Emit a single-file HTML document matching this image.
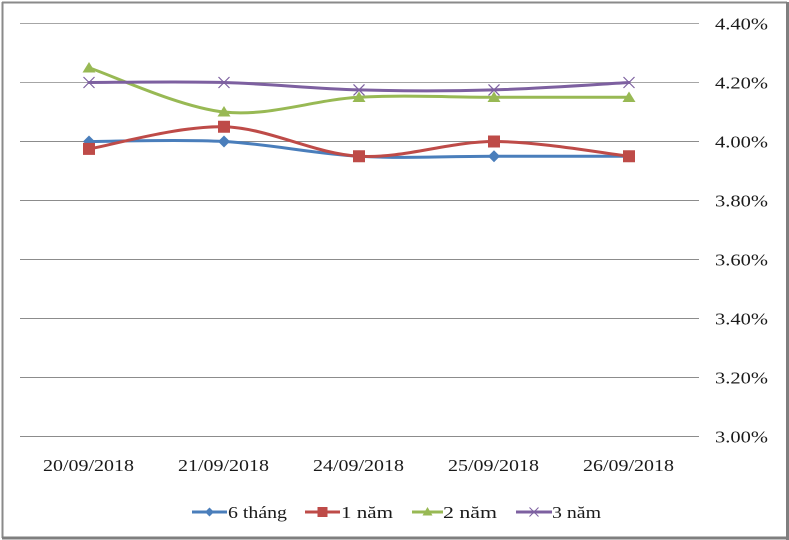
<!DOCTYPE html>
<html>
<head>
<meta charset="utf-8">
<style>
  html, body { margin: 0; padding: 0; background: #ffffff; }
  svg { display: block; }
  text { font-family: "Liberation Serif", "DejaVu Serif", serif; fill: #1a1a1a; }
</style>
</head>
<body>
<svg width="789" height="540" viewBox="0 0 789 540" xmlns="http://www.w3.org/2000/svg">
  <rect x="0" y="0" width="789" height="540" fill="#ffffff"/>
  <!-- outer border -->
  <line x1="2.5" y1="2" x2="2.5" y2="538" stroke="#8a8a8a" stroke-width="2"/>
  <line x1="2" y1="2.5" x2="787" y2="2.5" stroke="#8a8a8a" stroke-width="2"/>
  <line x1="787.5" y1="2" x2="787.5" y2="540" stroke="#7f7f7f" stroke-width="3"/>
  <line x1="2" y1="538" x2="789" y2="538" stroke="#7f7f7f" stroke-width="3"/>

  <!-- gridlines -->
  <g stroke="#a6a6a6" stroke-width="1">
    <line x1="20" y1="23.5" x2="699" y2="23.5"/>
    <line x1="20" y1="82.5" x2="699" y2="82.5"/>
    <line x1="20" y1="141.5" x2="699" y2="141.5" stroke="#8c8c8c"/>
    <line x1="20" y1="200.5" x2="699" y2="200.5" stroke="#8c8c8c"/>
    <line x1="20" y1="259.5" x2="699" y2="259.5" stroke="#8c8c8c"/>
    <line x1="20" y1="318.5" x2="699" y2="318.5" stroke="#8c8c8c"/>
    <line x1="20" y1="377.5" x2="699" y2="377.5" stroke="#8c8c8c"/>
    <line x1="20" y1="436.5" x2="699" y2="436.5" stroke="#8c8c8c"/>
  </g>

  <!-- y labels -->
  <g font-size="17">
    <text x="715" y="29.5" textLength="53" lengthAdjust="spacingAndGlyphs">4.40%</text>
    <text x="715" y="88.5" textLength="53" lengthAdjust="spacingAndGlyphs">4.20%</text>
    <text x="715" y="147.5" textLength="53" lengthAdjust="spacingAndGlyphs">4.00%</text>
    <text x="715" y="206.5" textLength="53" lengthAdjust="spacingAndGlyphs">3.80%</text>
    <text x="715" y="265.5" textLength="53" lengthAdjust="spacingAndGlyphs">3.60%</text>
    <text x="715" y="324.5" textLength="53" lengthAdjust="spacingAndGlyphs">3.40%</text>
    <text x="715" y="383.5" textLength="53" lengthAdjust="spacingAndGlyphs">3.20%</text>
    <text x="715" y="442.5" textLength="53" lengthAdjust="spacingAndGlyphs">3.00%</text>
  </g>

  <!-- x labels -->
  <g font-size="17">
    <text x="43" y="471" textLength="91" lengthAdjust="spacingAndGlyphs">20/09/2018</text>
    <text x="178" y="471" textLength="91" lengthAdjust="spacingAndGlyphs">21/09/2018</text>
    <text x="313" y="471" textLength="91" lengthAdjust="spacingAndGlyphs">24/09/2018</text>
    <text x="448" y="471" textLength="91" lengthAdjust="spacingAndGlyphs">25/09/2018</text>
    <text x="583" y="471" textLength="91" lengthAdjust="spacingAndGlyphs">26/09/2018</text>
  </g>

  <!-- series: 6 thang (blue) -->
  <path d="M89,141.5 C111.5,141.5 179,139.04 224,141.5 C269,143.96 314,153.79 359,156.25 C404,158.71 449,156.25 494,156.25 C539,156.25 606.5,156.25 629,156.25"
        fill="none" stroke="#4a7ebb" stroke-width="3" stroke-linejoin="round" stroke-linecap="round"/>
  <g fill="#4a7ebb">
    <polygon points="89,135.5 95,141.5 89,147.5 83,141.5"/>
    <polygon points="224,135.5 230,141.5 224,147.5 218,141.5"/>
    <polygon points="359,150.25 365,156.25 359,162.25 353,156.25"/>
    <polygon points="494,150.25 500,156.25 494,162.25 488,156.25"/>
    <polygon points="629,150.25 635,156.25 629,162.25 623,156.25"/>
  </g>

  <!-- series: 1 nam (red) -->
  <path d="M89,148.9 C111.5,145.21 179,125.52 224,126.75 C269,127.98 314,153.79 359,156.25 C404,158.71 449,141.5 494,141.5 C539,141.5 606.5,153.79 629,156.25"
        fill="none" stroke="#be4b48" stroke-width="3" stroke-linejoin="round" stroke-linecap="round"/>
  <g fill="#be4b48">
    <rect x="83" y="142.9" width="12" height="12"/>
    <rect x="218" y="120.75" width="12" height="12"/>
    <rect x="353" y="150.25" width="12" height="12"/>
    <rect x="488" y="135.5" width="12" height="12"/>
    <rect x="623" y="150.25" width="12" height="12"/>
  </g>

  <!-- series: 2 nam (green) -->
  <path d="M89,67.75 C111.5,75.13 179,107.08 224,112 C269,116.92 314,99.71 359,97.25 C404,94.79 449,97.25 494,97.25 C539,97.25 606.5,97.25 629,97.25"
        fill="none" stroke="#98b954" stroke-width="3" stroke-linejoin="round" stroke-linecap="round"/>
  <g fill="#98b954">
    <polygon points="89,62 95.5,72.5 82.5,72.5"/>
    <polygon points="224,106 230.5,116.5 217.5,116.5"/>
    <polygon points="359,91.5 365.5,102 352.5,102"/>
    <polygon points="494,91.5 500.5,102 487.5,102"/>
    <polygon points="629,91.5 635.5,102 622.5,102"/>
  </g>

  <!-- series: 3 nam (purple) -->
  <path d="M89,82.5 C111.5,82.5 179,81.27 224,82.5 C269,83.73 314,88.67 359,89.9 C404,91.13 449,91.13 494,89.9 C539,88.67 606.5,83.73 629,82.5"
        fill="none" stroke="#7d60a0" stroke-width="3" stroke-linejoin="round" stroke-linecap="round"/>
  <g stroke="#7d60a0" stroke-width="1.2" fill="none">
    <path d="M83.5,77 L94.5,88 M94.5,77 L83.5,88"/>
    <path d="M218.5,77 L229.5,88 M229.5,77 L218.5,88"/>
    <path d="M353.5,84.4 L364.5,95.4 M364.5,84.4 L353.5,95.4"/>
    <path d="M488.5,84.4 L499.5,95.4 M499.5,84.4 L488.5,95.4"/>
    <path d="M623.5,77 L634.5,88 M634.5,77 L623.5,88"/>
  </g>

  <!-- legend -->
  <g>
    <line x1="192" y1="512" x2="227" y2="512" stroke="#4a7ebb" stroke-width="3"/>
    <polygon points="209.5,507.5 214,512 209.5,516.5 205,512" fill="#4a7ebb"/>
    <text x="228" y="518" font-size="17" textLength="59" lengthAdjust="spacingAndGlyphs">6 tháng</text>

    <line x1="305" y1="512" x2="340" y2="512" stroke="#be4b48" stroke-width="3"/>
    <rect x="317.5" y="507" width="10" height="10" fill="#be4b48"/>
    <text x="341" y="518" font-size="17" textLength="52" lengthAdjust="spacingAndGlyphs">1 năm</text>

    <line x1="412" y1="512" x2="443" y2="512" stroke="#98b954" stroke-width="3"/>
    <polygon points="427.5,507 432.5,515.5 422.5,515.5" fill="#98b954"/>
    <text x="443" y="518" font-size="17" textLength="54" lengthAdjust="spacingAndGlyphs">2 năm</text>

    <line x1="516" y1="512" x2="552" y2="512" stroke="#7d60a0" stroke-width="3"/>
    <path d="M529.5,507.5 L538.5,516.5 M538.5,507.5 L529.5,516.5" stroke="#7d60a0" stroke-width="1" fill="none"/>
    <text x="552" y="518" font-size="17" textLength="49" lengthAdjust="spacingAndGlyphs">3 năm</text>
  </g>
</svg>
</body>
</html>
